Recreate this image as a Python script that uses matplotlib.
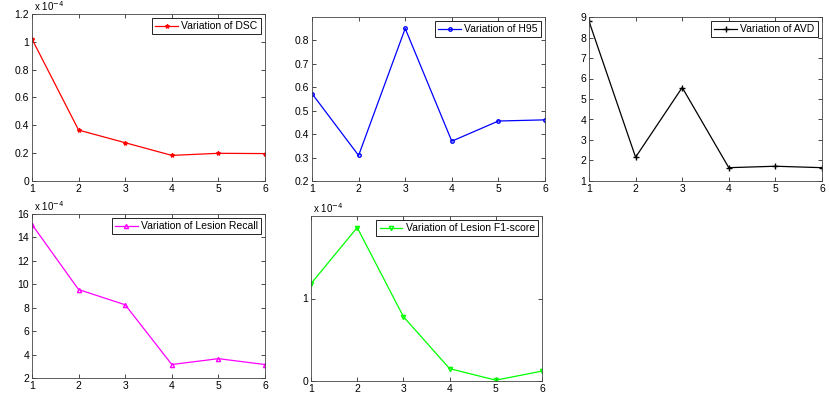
import matplotlib
matplotlib.use("Agg")
import matplotlib.pyplot as plt

plt.rcParams['font.family'] = ['Liberation Sans', 'DejaVu Sans']
plt.rcParams['font.size'] = 7

x = [1, 2, 3, 4, 5, 6]
dsc = [1.02, 0.366, 0.275, 0.184, 0.199, 0.197]      # x 1e-4
h95 = [0.573, 0.309, 0.851, 0.370, 0.456, 0.461]
avd = [8.79, 2.16, 5.56, 1.65, 1.72, 1.65]
recall = [15.1, 9.55, 8.25, 3.15, 3.65, 3.15]        # x 1e-4
f1 = [1.18, 1.86, 0.78, 0.15, 0.01, 0.12]            # x 1e-4

W, H = 830, 399
fig = plt.figure(figsize=(W / 100, H / 100), dpi=100)


def px_axes(x0, y0, x1, y1):
    return fig.add_axes([x0 / W, 1 - y1 / H, (x1 - x0) / W, (y1 - y0) / H])


def style(ax, ylim, yticks, ylabels=None):
    ax.set_xlim(1, 6)
    ax.set_xticks(x)
    ax.set_ylim(*ylim)
    ax.set_yticks(yticks)
    if ylabels is not None:
        ax.set_yticklabels(ylabels)
    ax.tick_params(direction='in', top=True, right=True, length=3, width=0.5,
                   pad=2, labelsize=7.5)
    for s in ax.spines.values():
        s.set_linewidth(0.6)
        s.set_color('#444444')
    leg = ax.legend(loc='upper right', fontsize=7.5, fancybox=False, framealpha=1,
                    edgecolor='black', borderaxespad=0.4, handlelength=2.2,
                    borderpad=0.3, handletextpad=0.3)
    leg.get_frame().set_linewidth(0.6)


def offset(ax):
    ax.text(0.01, 1.005, r'x 10$^{-4}$', transform=ax.transAxes, fontsize=7,
            va='bottom', ha='left')


ax1 = px_axes(32, 14, 265, 181)
ax1.plot(x, dsc, color='red', marker='*', markersize=3, lw=0.9, label='Variation of DSC')
style(ax1, (0, 1.2), [0, 0.2, 0.4, 0.6, 0.8, 1.0, 1.2],
      ['0', '0.2', '0.4', '0.6', '0.8', '1', '1.2'])
offset(ax1)

ax2 = px_axes(312, 17, 545, 181)
ax2.plot(x, h95, color='blue', marker='o', markersize=2.5, mfc='none', lw=0.9,
         label='Variation of H95')
style(ax2, (0.2, 0.9), [0.2, 0.3, 0.4, 0.5, 0.6, 0.7, 0.8])

ax3 = px_axes(589, 17, 822, 181)
ax3.plot(x, avd, color='black', marker='+', markersize=4, lw=0.9, label='Variation of AVD')
style(ax3, (1, 9), [1, 2, 3, 4, 5, 6, 7, 8, 9])

ax4 = px_axes(32, 214, 265, 378)
ax4.plot(x, recall, color='magenta', marker='^', markersize=3, mfc='none', lw=0.9,
         label='Variation of Lesion Recall')
style(ax4, (2, 16), [2, 4, 6, 8, 10, 12, 14, 16])
offset(ax4)

ax5 = px_axes(311, 216, 542, 381)
ax5.plot(x, f1, color='#00ff00', marker='v', markersize=3, mfc='none', lw=0.9,
         label='Variation of Lesion F1-score')
style(ax5, (0, 2), [0, 1])
offset(ax5)

fig.savefig('out.png', dpi=100, facecolor='white')
